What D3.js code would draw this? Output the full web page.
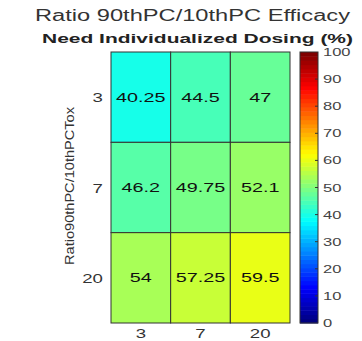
<!DOCTYPE html>
<html>
<head>
<meta charset="utf-8">
<script src="https://cdn.jsdelivr.net/npm/d3@7"></script>
<style>
  body { margin: 0; background: #fff; }
  text { font-family: "Liberation Sans", Arial, sans-serif; }
</style>
</head>
<body>
<svg id="chart" width="362" height="341"></svg>
<script>
// data
const xCats = ["3", "7", "20"];          // Ratio 90thPC/10thPC Efficacy
const yCats = ["3", "7", "20"];          // Ratio 90thPC/10thPC Tox
const values = [
    [40.25, 44.5, 47],
    [46.2, 49.75, 52.1],
    [54, 57.25, 59.5]
];
const cbTicks = [0, 10, 20, 30, 40, 50, 60, 70, 80, 90, 100];

const svg = d3.select("#chart");

// matlab jet, 64 levels
function jet(v) {
    const t = Math.min(63, Math.floor(v / 100 * 64)) / 63;
    const c = x => Math.max(0, Math.min(1, x));
    const r = c(1.5 - Math.abs(4 * t - 3));
    const g = c(1.5 - Math.abs(4 * t - 2));
    const b = c(1.5 - Math.abs(4 * t - 1));
    return d3.rgb(r * 255, g * 255, b * 255).toString();
}

// stretch text horizontally (the picture is a bit widened)
function stretch(sel, k) {
    sel.each(function () {
        const w = this.getComputedTextLength();
        d3.select(this).attr("textLength", w * k).attr("lengthAdjust", "spacingAndGlyphs");
    });
}

const x = d3.scaleBand().domain(xCats).range([111, 290]);
const y = d3.scaleBand().domain(yCats).range([52, 323]);

// cells
const rows = svg.append("g").selectAll("g")
    .data(values)
    .enter().append("g");

rows.selectAll("rect")
    .data((d, i) => d.map((v, j) => ({v: v, r: yCats[i], c: xCats[j]})))
    .enter().append("rect")
    .attr("x", d => x(d.c))
    .attr("y", d => y(d.r))
    .attr("width", x.bandwidth())
    .attr("height", y.bandwidth())
    .attr("fill", d => jet(d.v))
    .attr("stroke", "#333")
    .attr("stroke-width", 1);

rows.selectAll("text")
    .data((d, i) => d.map((v, j) => ({v: v, r: yCats[i], c: xCats[j]})))
    .enter().append("text")
    .attr("x", d => x(d.c) + x.bandwidth() / 2)
    .attr("y", d => y(d.r) + y.bandwidth() / 2 + 4.5)
    .attr("text-anchor", "middle")
    .attr("font-size", 13)
    .attr("fill", "#111")
    .text(d => d.v)
    .call(stretch, 1.52);

// axes tick labels
svg.append("g").selectAll("text")
    .data(xCats)
    .enter().append("text")
    .attr("x", d => x(d) + x.bandwidth() / 2)
    .attr("y", 338)
    .attr("text-anchor", "middle")
    .attr("font-size", 12)
    .attr("fill", "#333")
    .text(d => d)
    .call(stretch, 1.55);

svg.append("g").selectAll("text")
    .data(yCats)
    .enter().append("text")
    .attr("x", 103)
    .attr("y", d => y(d) + y.bandwidth() / 2 + 5)
    .attr("text-anchor", "end")
    .attr("font-size", 12)
    .attr("fill", "#333")
    .text(d => d)
    .call(stretch, 1.55);

// y axis title, squashed
svg.append("text")
    .attr("transform", "translate(74,186) rotate(-90)")
    .attr("text-anchor", "middle")
    .attr("font-size", 13)
    .attr("fill", "#333")
    .attr("textLength", 158)
    .attr("lengthAdjust", "spacingAndGlyphs")
    .text("Ratio90thPC/10thPCTox");

// titles
svg.append("text")
    .attr("x", 192.5)
    .attr("y", 21)
    .attr("text-anchor", "middle")
    .attr("font-size", 16)
    .attr("fill", "#333")
    .attr("textLength", 315)
    .attr("lengthAdjust", "spacingAndGlyphs")
    .text("Ratio 90thPC/10thPC Efficacy");

svg.append("text")
    .attr("x", 197.5)
    .attr("y", 43)
    .attr("text-anchor", "middle")
    .attr("font-size", 13)
    .attr("font-weight", "bold")
    .attr("fill", "#222")
    .attr("textLength", 311)
    .attr("lengthAdjust", "spacingAndGlyphs")
    .text("Need Individualized Dosing (%)");

// colorbar
const cb = d3.scaleLinear().domain([0, 100]).range([323, 52]);
const steps = d3.range(64);
svg.append("g").selectAll("rect")
    .data(steps)
    .enter().append("rect")
    .attr("x", 300)
    .attr("width", 18)
    .attr("y", d => cb((d + 1) * 100 / 64))
    .attr("height", cb(0) - cb(100 / 64) + 0.5)
    .attr("fill", d => jet((d + 0.5) * 100 / 64));

svg.append("rect")
    .attr("x", 300).attr("y", 52)
    .attr("width", 18).attr("height", 271)
    .attr("fill", "none")
    .attr("stroke", "#333");

const cbAxis = svg.append("g");
cbAxis.selectAll("line")
    .data(cbTicks.slice(1, -1))
    .enter().append("line")
    .attr("x1", 315).attr("x2", 318)
    .attr("y1", d => cb(d)).attr("y2", d => cb(d))
    .attr("stroke", "#333");

cbAxis.selectAll("text")
    .data(cbTicks)
    .enter().append("text")
    .attr("x", 323)
    .attr("y", d => cb(d) + 4)
    .attr("font-size", 11)
    .attr("fill", "#444")
    .text(d => d)
    .call(stretch, 1.5);
</script>
</body>
</html>
